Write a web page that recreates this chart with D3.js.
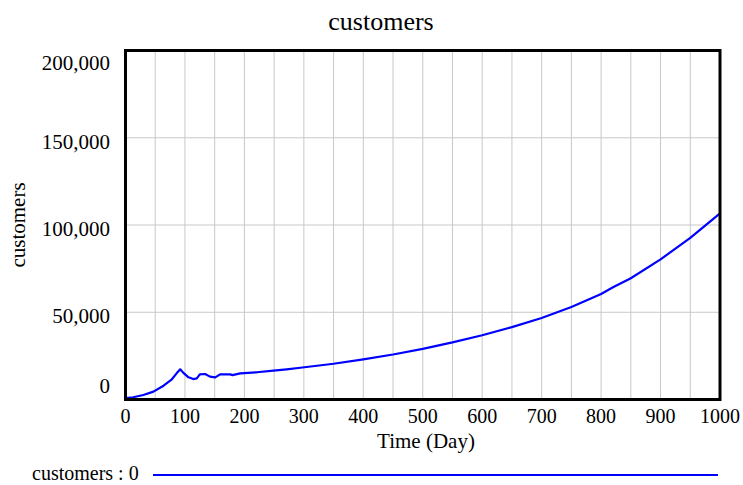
<!DOCTYPE html>
<html>
<head>
<meta charset="utf-8">
<script src="https://cdn.jsdelivr.net/npm/d3@7"></script>
<style>
  html, body { margin: 0; padding: 0; background: #fff; }
  svg { display: block; font-family: "Liberation Serif", "Times New Roman", serif; }
</style>
</head>
<body>
<svg id="chart" width="743" height="485"></svg>
<script>
// Simulation output: customers over time
const days = [0, 13, 30, 47, 64, 78, 86, 92, 97, 106, 114, 120, 125, 134, 142, 151, 159, 176, 180, 193, 221, 249, 271, 294,
              350, 400, 450, 500, 550, 600, 650, 700, 750, 800, 820, 850, 900, 950, 1000];
const customers = [800, 1300, 2600, 4500, 7900, 11600, 15000, 17300, 15400, 12700, 11700, 12100, 14400, 14600, 13100, 12700, 14400, 14400, 14000, 15000, 15600, 16500, 17300, 18200,
                   20500, 23000, 25800, 29000, 32700, 36800, 41500, 46700, 53000, 60500, 64300, 69500, 80300, 92600, 106700];

const xTicks = [0, 100, 200, 300, 400, 500, 600, 700, 800, 900, 1000];
const xGrid = d3.range(0, 1001, 50);
const yTicks = [0, 50000, 100000, 150000, 200000];

const svg = d3.select("#chart");
const plotLeft = 125.5, plotRight = 720, plotTop = 50.5, plotBottom = 399.5;

const x = d3.scaleLinear().domain([0, 1000]).range([plotLeft, plotRight]);
const y = d3.scaleLinear().domain([0, 200000]).range([plotBottom, plotTop]);

// grid
svg.append("g").selectAll("line").data(xGrid).join("line")
  .attr("x1", d => x(d)).attr("x2", d => x(d))
  .attr("y1", plotTop).attr("y2", plotBottom)
  .attr("stroke", "#c8c8c8").attr("stroke-width", 1);
svg.append("g").selectAll("line").data(yTicks).join("line")
  .attr("x1", plotLeft).attr("x2", plotRight)
  .attr("y1", d => y(d)).attr("y2", d => y(d))
  .attr("stroke", "#c8c8c8").attr("stroke-width", 1);

// series
const line = d3.line().x((d, i) => x(days[i])).y(d => y(d));
svg.append("path").datum(customers)
  .attr("d", line)
  .attr("fill", "none").attr("stroke", "#0000ff").attr("stroke-width", 2.2)
  .attr("stroke-linejoin", "round");

// frame
svg.append("rect")
  .attr("x", plotLeft).attr("y", plotTop)
  .attr("width", plotRight - plotLeft).attr("height", plotBottom - plotTop)
  .attr("fill", "none").attr("stroke", "#000").attr("stroke-width", 3);

// x tick labels
const fmt = d3.format(",");
svg.append("g").selectAll("text").data(xTicks).join("text")
  .attr("x", d => x(d)).attr("y", 423)
  .attr("text-anchor", "middle").attr("font-size", 20)
  .text(d => d);

// y tick labels (end labels pulled inside the frame extent)
svg.append("g").selectAll("text").data(yTicks).join("text")
  .attr("x", 110)
  .attr("y", d => d === 200000 ? y(d) + 19.5 : d === 0 ? y(d) - 6.5 : y(d) + 11)
  .attr("text-anchor", "end").attr("font-size", 21)
  .text(d => fmt(d));

// titles
svg.append("text").attr("x", 381).attr("y", 30)
  .attr("text-anchor", "middle").attr("font-size", 26).text("customers");
svg.append("text").attr("x", 426).attr("y", 448)
  .attr("text-anchor", "middle").attr("font-size", 21).text("Time (Day)");
svg.append("text")
  .attr("transform", "translate(25,225) rotate(-90)")
  .attr("text-anchor", "middle").attr("font-size", 21).text("customers");

// legend
svg.append("text").attr("x", 32).attr("y", 480)
  .attr("font-size", 20).text("customers : 0");
svg.append("line")
  .attr("x1", 153).attr("x2", 718).attr("y1", 475).attr("y2", 475)
  .attr("stroke", "#0000ff").attr("stroke-width", 2);
</script>
</body>
</html>
